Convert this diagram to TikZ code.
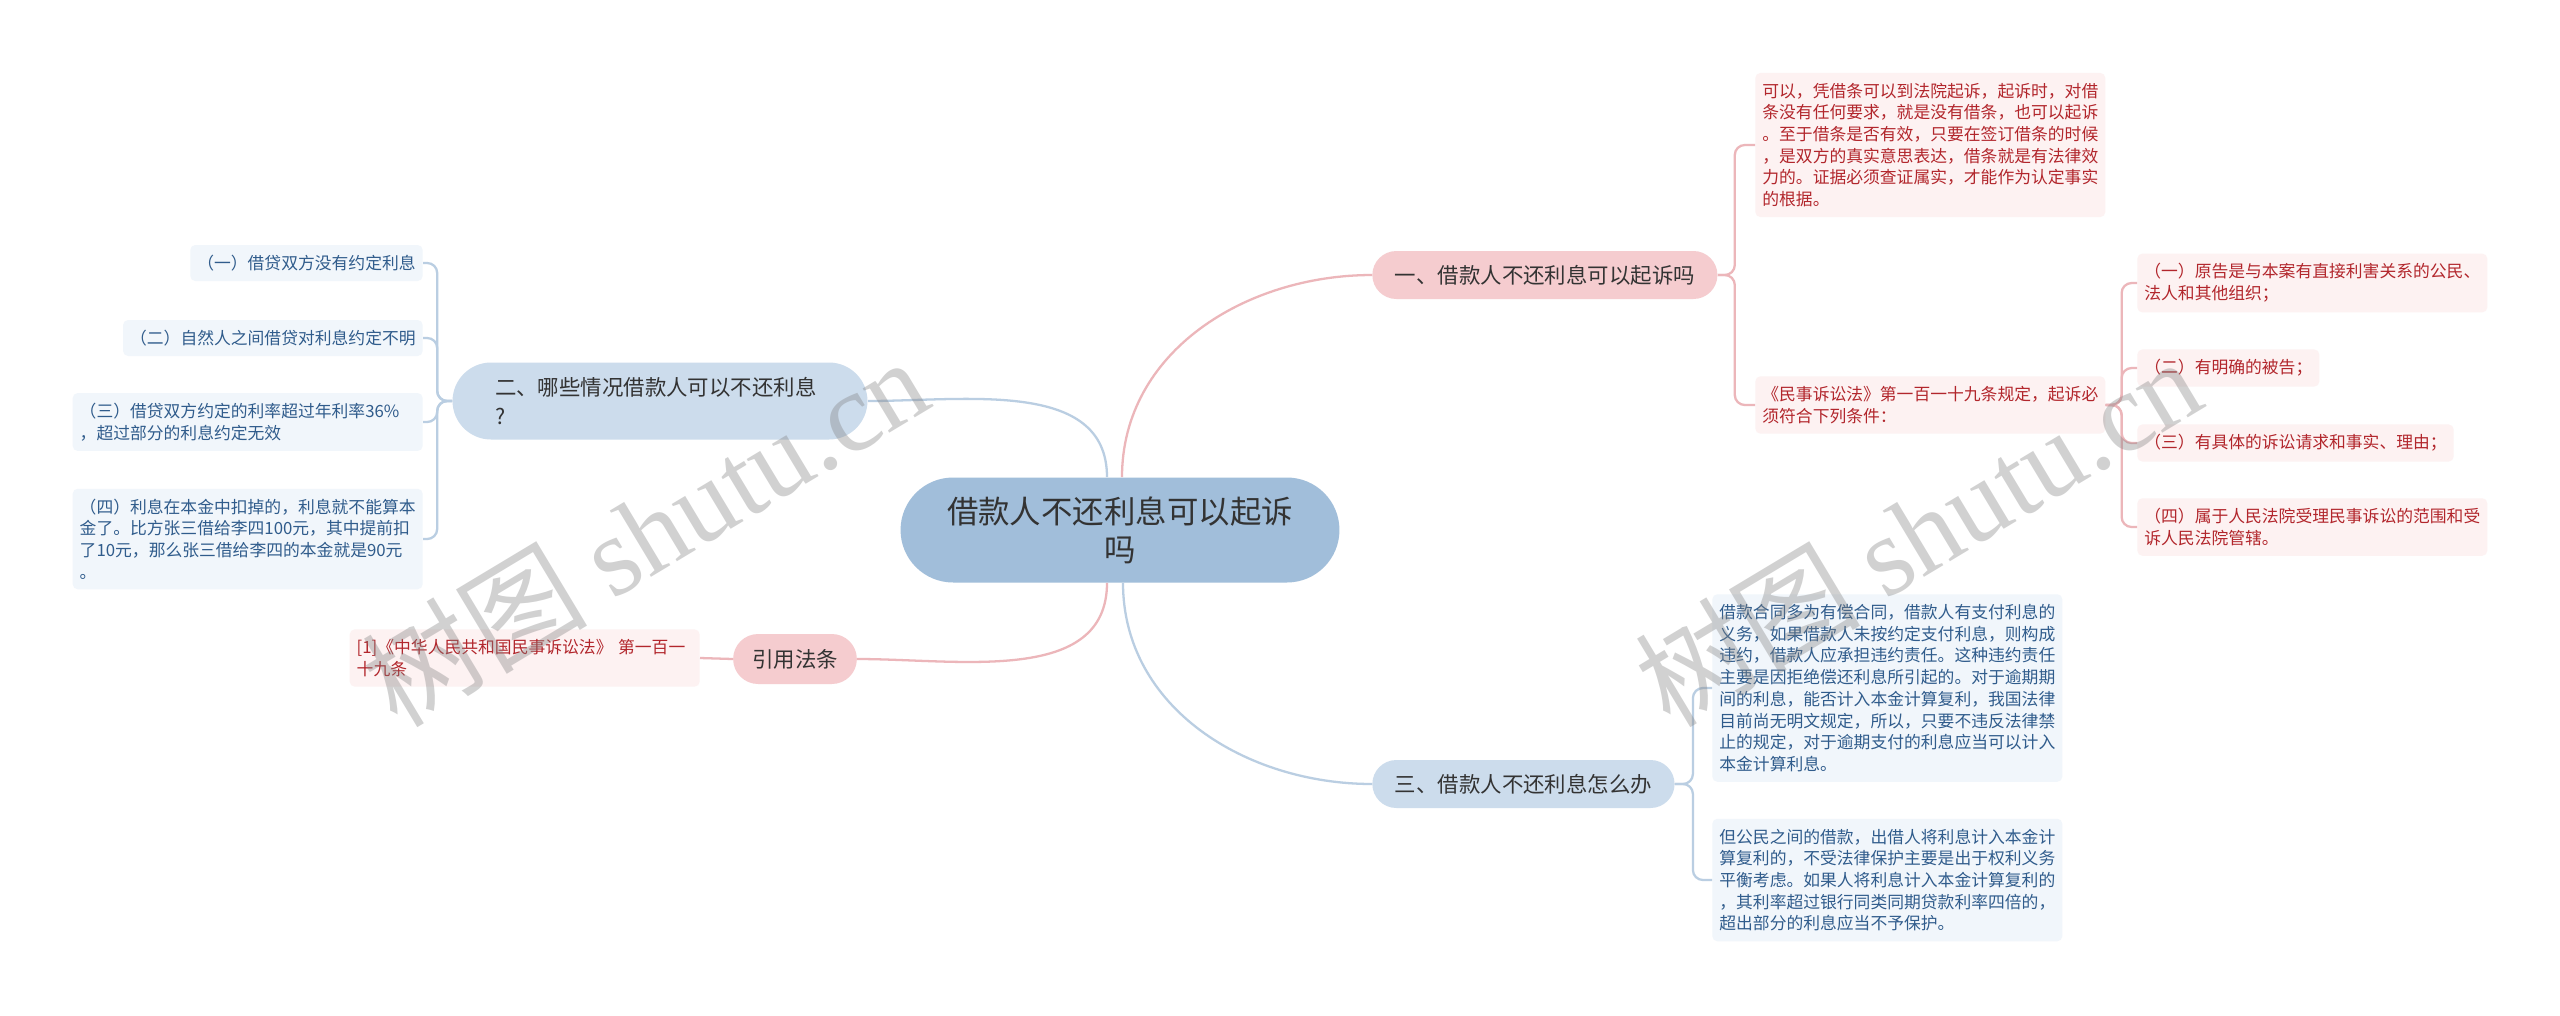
\documentclass[tikz,border=0pt]{standalone}
\usepackage{fontspec}
\setmainfont{Noto Sans CJK SC}
\newfontfamily\wmfont{Liberation Serif}
\usepackage{tikz}
\usetikzlibrary{arrows.meta}
\definecolor{rootblue}{RGB}{161,190,218}
\definecolor{paleblue}{RGB}{204,220,236}
\definecolor{palepink}{RGB}{245,204,207}
\definecolor{linkblue}{RGB}{186,206,226}
\definecolor{linkpink}{RGB}{236,182,186}
\definecolor{leafblue}{RGB}{241,246,251}
\definecolor{leafpink}{RGB}{253,242,242}
\definecolor{inkblue}{RGB}{48,92,140}
\definecolor{inkred}{RGB}{178,38,44}
\definecolor{inkdark}{RGB}{51,51,51}

\begin{document}
\begin{tikzpicture}[
  x=0.02cm, y=-0.02cm,
  every node/.style={inner sep=0pt},
  root/.style={fill=rootblue, rounded corners=1.05cm, minimum width=8.78cm, minimum height=2.1cm, align=center, text=inkdark, font=\fontsize{17.9}{21.8}\selectfont},
  topic/.style={rounded corners=0.48cm, minimum height=0.96cm, inner xsep=0.45cm, text=inkdark, font=\fontsize{12.2}{16}\selectfont},
  bluetopic/.style={topic, fill=paleblue},
  pinktopic/.style={topic, fill=palepink},
  leaf/.style={rounded corners=0.1cm, inner xsep=0.14cm, inner ysep=0.2cm, align=left, font=\fontsize{9.56}{12.35}\selectfont},
  wide/.style={text width=6.72cm},
  blueleaf/.style={leaf, fill=leafblue, text=inkblue},
  pinkleaf/.style={leaf, fill=leafpink, text=inkred},
  bluelink/.style={draw=linkblue, line width=1.3pt},
  pinklink/.style={draw=linkpink, line width=1.3pt},
  watermark/.style={text=black!50, text opacity=0.36, rotate=31, font=\fontsize{64}{64}\selectfont}
]
\fill[white] (0,0) rectangle (2560,1015);
\useasboundingbox (0,0) rectangle (2560,1015);

\node[root] (root) at (1120,530) {借款人不还利息可以起诉\\吗};
\node[pinktopic, anchor=west] (ask) at (1372,275) {一、借款人不还利息可以起诉吗};
\node[bluetopic, align=left, text width=6.6cm, inner xsep=0.85cm, minimum height=1.54cm, rounded corners=0.77cm] (cases) at (660,401) {二、哪些情况借款人可以不还利息\\?};
\node[pinktopic, inner xsep=0.38cm, minimum height=1cm, rounded corners=0.5cm] (law) at (795,659) {引用法条};
\node[bluetopic, anchor=west] (todo) at (1372,784) {三、借款人不还利息怎么办};

\node[pinkleaf, wide, anchor=west] (askA) at (1755,145) {可以，凭借条可以到法院起诉，起诉时，对借\\条没有任何要求，就是没有借条，也可以起诉\\。至于借条是否有效，只要在签订借条的时候\\，是双方的真实意思表达，借条就是有法律效\\力的。证据必须查证属实，才能作为认定事实\\的根据。};
\node[pinkleaf, wide, anchor=west] (askB) at (1755,405) {《民事诉讼法》第一百一十九条规定，起诉必\\须符合下列条件：};
\node[pinkleaf, wide, anchor=west] (cond1) at (2137,283) {（一）原告是与本案有直接利害关系的公民、\\法人和其他组织；};
\node[pinkleaf, anchor=west] (cond2) at (2137,368) {（二）有明确的被告；};
\node[pinkleaf, anchor=west] (cond3) at (2137,443) {（三）有具体的诉讼请求和事实、理由；};
\node[pinkleaf, wide, anchor=west] (cond4) at (2137,527) {（四）属于人民法院受理民事诉讼的范围和受\\诉人民法院管辖。};

\node[blueleaf, wide, anchor=west] (todoA) at (1712,688) {借款合同多为有偿合同，借款人有支付利息的\\义务，如果借款人未按约定支付利息，则构成\\违约，借款人应承担违约责任。这种违约责任\\主要是因拒绝偿还利息所引起的。对于逾期期\\间的利息，能否计入本金计算复利，我国法律\\目前尚无明文规定，所以，只要不违反法律禁\\止的规定，对于逾期支付的利息应当可以计入\\本金计算利息。};
\node[blueleaf, wide, anchor=west] (todoB) at (1712,880) {但公民之间的借款，出借人将利息计入本金计\\算复利的，不受法律保护主要是出于权利义务\\平衡考虑。如果人将利息计入本金计算复利的\\，其利率超过银行同类同期贷款利率四倍的，\\超出部分的利息应当不予保护。};

\node[blueleaf, anchor=east] (case1) at (423,263) {（一）借贷双方没有约定利息};
\node[blueleaf, anchor=east] (case2) at (423,338) {（二）自然人之间借贷对利息约定不明};
\node[blueleaf, wide, anchor=east] (case3) at (423,422) {（三）借贷双方约定的利率超过年利率36\%\\，超过部分的利息约定无效};
\node[blueleaf, wide, anchor=east] (case4) at (423,539) {（四）利息在本金中扣掉的，利息就不能算本\\金了。比方张三借给李四100元，其中提前扣\\了10元，那么张三借给李四的本金就是90元\\。};

\node[pinkleaf, wide, anchor=east] (lawref) at (700,658) {[1]《中华人民共和国民事诉讼法》~第一百一\\十九条};

\draw[pinklink] ([xshift=0.04cm]root.north) to[out=90,in=180] (ask.west);
\draw[bluelink] ([xshift=-0.26cm]root.north) to[out=90,in=0] (cases.east);
\draw[pinklink] ([xshift=-0.26cm]root.south) to[out=-90,in=0] (law.east);
\draw[bluelink] ([xshift=0.06cm]root.south) to[out=-90,in=180] (todo.west);

\foreach \kid in {askA,askB}
  \draw[pinklink, rounded corners=0.2cm] (ask.east) -- ++(17,0) |- (\kid.west);
\foreach \kid in {cond1,cond2,cond3,cond4}
  \draw[pinklink, rounded corners=0.2cm] (askB.east) -- ++(16,0) |- (\kid.west);
\foreach \kid in {todoA,todoB}
  \draw[bluelink, rounded corners=0.2cm] (todo.east) -- ++(18,0) |- (\kid.west);
\foreach \kid in {case1,case2,case3,case4}
  \draw[bluelink, rounded corners=0.2cm] (cases.west) -- ++(-15,0) |- (\kid.east);
\draw[pinklink] (law.west) -- (lawref.east);

\node[watermark] (markleft) at (645,531) {树图 {\wmfont shutu.cn}};
\node[watermark] (markright) at (1918,531) {树图 {\wmfont shutu.cn}};
\end{tikzpicture}
\end{document}
